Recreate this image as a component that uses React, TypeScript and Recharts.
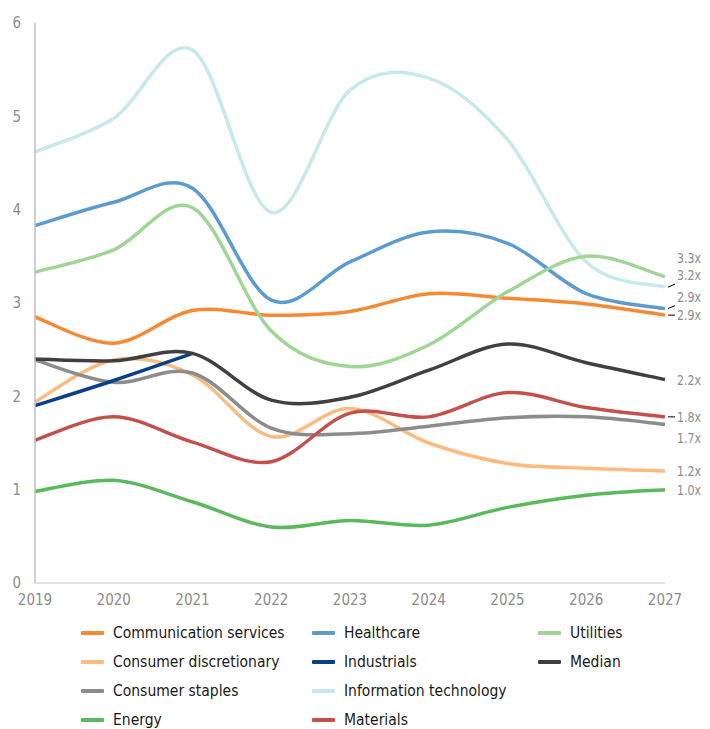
import { LineChart, Line, XAxis, YAxis } from "recharts";

const years = ["2019", "2020", "2021", "2022", "2023", "2024", "2025", "2026", "2027"];

const communication = [2.85, 2.57, 2.92, 2.87, 2.91, 3.1, 3.05, 2.99, 2.87];
const consumerDisc = [1.94, 2.39, 2.23, 1.57, 1.87, 1.5, 1.28, 1.23, 1.2];
const consumerStaples = [2.39, 2.15, 2.25, 1.66, 1.6, 1.68, 1.77, 1.78, 1.7];
const energy = [0.98, 1.1, 0.87, 0.6, 0.67, 0.62, 0.81, 0.94, 1.0];
const healthcare = [3.83, 4.08, 4.23, 3.03, 3.44, 3.76, 3.64, 3.1, 2.94];
const industrials = [1.9, 2.17, 2.46, null, null, null, null, null, null];
const infoTech = [4.62, 4.98, 5.71, 3.97, 5.28, 5.41, 4.75, 3.44, 3.17];
const materials = [1.53, 1.78, 1.51, 1.3, 1.82, 1.78, 2.04, 1.88, 1.78];
const utilities = [3.33, 3.57, 4.02, 2.7, 2.32, 2.55, 3.12, 3.5, 3.28];
const median = [2.4, 2.38, 2.46, 1.96, 1.99, 2.28, 2.56, 2.36, 2.18];

const yTicks = [0, 1, 2, 3, 4, 5, 6];

const series = [
  { key: "comm", name: "Communication services", values: communication, color: "#F58A34", end: "2.9x", dy: 0, leader: 0 },
  { key: "disc", name: "Consumer discretionary", values: consumerDisc, color: "#FDBB80", end: "1.2x", dy: 0, leader: null },
  { key: "staples", name: "Consumer staples", values: consumerStaples, color: "#8C8C8E", end: "1.7x", dy: 14, leader: null },
  { key: "energy", name: "Energy", values: energy, color: "#5CB85C", end: "1.0x", dy: 0, leader: null },
  { key: "health", name: "Healthcare", values: healthcare, color: "#5B9BD0", end: "2.9x", dy: -12, leader: -3 },
  { key: "ind", name: "Industrials", values: industrials, color: "#0B3F8A", end: "", dy: 0, leader: null },
  { key: "it", name: "Information technology", values: infoTech, color: "#C6E9EC", end: "3.2x", dy: -12, leader: -3 },
  { key: "mat", name: "Materials", values: materials, color: "#C4504C", end: "1.8x", dy: 0, leader: 0 },
  { key: "util", name: "Utilities", values: utilities, color: "#A0D596", end: "3.3x", dy: -19, leader: null },
  { key: "median", name: "Median", values: median, color: "#404040", end: "2.2x", dy: 0, leader: null },
];

const data = years.map((year, i) => {
  const row: any = { year };
  series.forEach((s) => (row[s.key] = s.values[i]));
  return row;
});

// Excel-like smoothed line (uniform Catmull-Rom as cubic Bezier)
function smoothCurve(context: any) {
  let pts: number[][] = [];
  return {
    areaStart() {},
    areaEnd() {},
    lineStart() {
      pts = [];
    },
    point(x: number, y: number) {
      pts.push([+x, +y]);
    },
    lineEnd() {
      if (!pts.length) return;
      context.moveTo(pts[0][0], pts[0][1]);
      for (let i = 0; i < pts.length - 1; i++) {
        const p0 = pts[Math.max(i - 1, 0)];
        const p1 = pts[i];
        const p2 = pts[i + 1];
        const p3 = pts[Math.min(i + 2, pts.length - 1)];
        context.bezierCurveTo(
          p1[0] + (p2[0] - p0[0]) / 6,
          p1[1] + (p2[1] - p0[1]) / 6,
          p2[0] - (p3[0] - p1[0]) / 6,
          p2[1] - (p3[1] - p1[1]) / 6,
          p2[0],
          p2[1]
        );
      }
    },
  };
}

const FONT = "'DejaVu Sans Condensed', 'DejaVu Sans', Tahoma, sans-serif";

function endLabel(props: any, s: any) {
  const { x, y, index } = props;
  if (index !== years.length - 1 || !s.end) return null;
  return (
    <g key={`end-${s.key}`}>
      {s.leader !== null && (
        <line x1={x + 3} y1={y} x2={x + 10} y2={y + s.leader} stroke="#000" strokeWidth={1} />
      )}
      <text
        x={x + 12}
        y={y + s.dy}
        dominantBaseline="central"
        fontSize={14.5}
        textLength={24}
        lengthAdjust="spacingAndGlyphs"
        fill="#8C8C8C"
        fontFamily={FONT}
      >
        {s.end}
      </text>
    </g>
  );
}

const legendCols = [73, 304, 530];

export default function App() {
  return (
    <div style={{ position: "relative", width: 694, height: 721, fontFamily: FONT }}>
      <style>{`html { overflow: hidden; } .recharts-surface { overflow: visible; } .recharts-wrapper { overflow: visible; }`}</style>
      <LineChart width={694} height={610} data={data} margin={{ top: 15, right: 37, bottom: 5, left: 7 }}>
        <XAxis
          dataKey="year"
          axisLine={{ stroke: "#D9D9D9", strokeWidth: 1.5 }}
          tickLine={false}
          tickSize={0}
          tickMargin={11}
          height={30}
          interval={0}
          tick={{ fill: "#8C8C8C", fontSize: 15, fontFamily: FONT }}
        />
        <YAxis
          domain={[0, 6]}
          ticks={yTicks}
          width={20}
          axisLine={{ stroke: "#BFBFBF", strokeWidth: 1.5 }}
          tickLine={false}
          tickSize={0}
          tickMargin={14}
          tick={{ fill: "#8C8C8C", fontSize: 15, fontFamily: FONT }}
        />
        {series.map((s) => (
          <Line
            key={s.key}
            dataKey={s.key}
            name={s.name}
            type={smoothCurve as any}
            stroke={s.color}
            strokeWidth={3.5}
            dot={false}
            activeDot={false}
            isAnimationActive={false}
            label={(p: any) => endLabel(p, s)}
          />
        ))}
      </LineChart>
      {series.map((s, i) => {
        const col = Math.floor(i / 4) > 2 ? 2 : Math.floor(i / 4);
        const row = i < 8 ? i % 4 : i - 8;
        return (
          <div
            key={s.key}
            style={{
              position: "absolute",
              left: legendCols[col],
              top: 625 + row * 29 - 10,
              height: 20,
              display: "flex",
              alignItems: "center",
              fontSize: 15.5,
              color: "#1a1a1a",
              whiteSpace: "nowrap",
            }}
          >
            <span style={{ display: "inline-block", width: 23, height: 4, background: s.color, marginRight: 9, borderRadius: 1 }} />
            {s.name}
          </div>
        );
      })}
    </div>
  );
}
